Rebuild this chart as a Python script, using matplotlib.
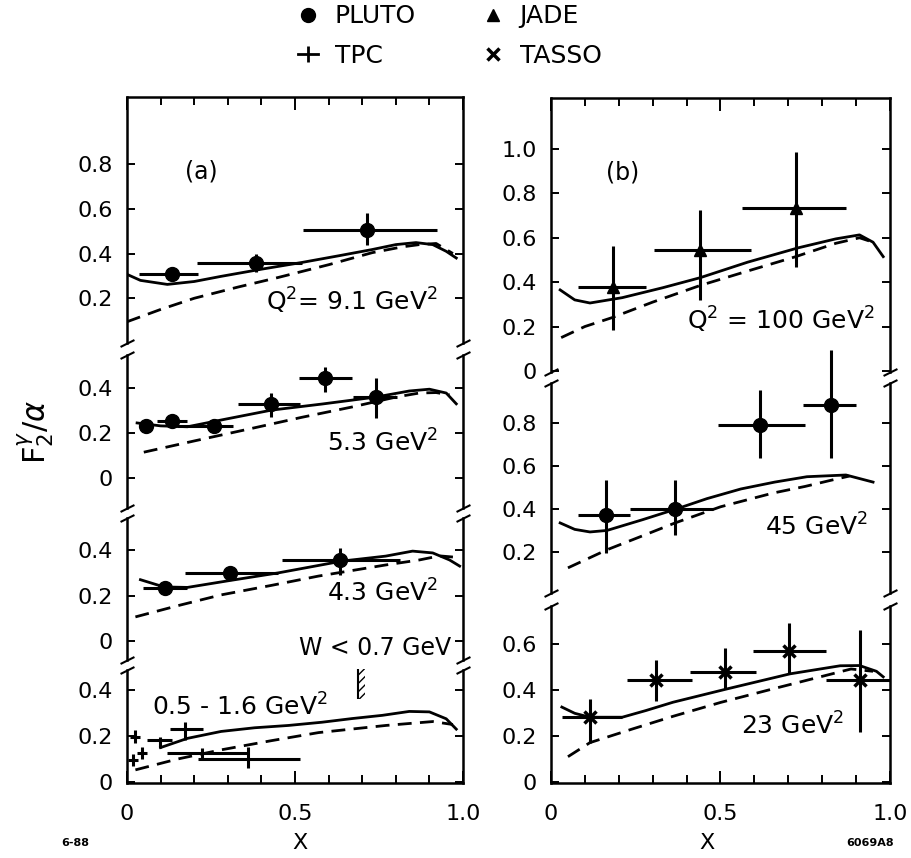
import matplotlib
matplotlib.use("Agg")
import matplotlib.pyplot as plt
from matplotlib.lines import Line2D
from matplotlib.ticker import MultipleLocator
import numpy as np

plt.rcParams['font.family'] = ['DejaVu Sans']
plt.rcParams['mathtext.fontset'] = 'dejavusans'

# ---------------- data ----------------
# (a) Q2 = 9.1 GeV2, PLUTO
a1_x = [0.134, 0.384, 0.714]
a1_y = [0.307, 0.356, 0.507]
a1_xlo = [0.035, 0.208, 0.524]
a1_xhi = [0.211, 0.521, 0.923]
a1_ylo = [0.295, 0.316, 0.44]
a1_yhi = [0.32, 0.40, 0.58]
a1_sol_x = [0.0, 0.04, 0.12, 0.2, 0.28, 0.4, 0.52, 0.63, 0.73, 0.8, 0.86, 0.91, 0.95, 0.98]
a1_sol_y = [0.307, 0.28, 0.262, 0.275, 0.298, 0.33, 0.36, 0.39, 0.418, 0.44, 0.449, 0.44, 0.41, 0.38]
a1_dash_x = [0.0, 0.1, 0.2, 0.33, 0.45, 0.6, 0.73, 0.82, 0.87, 0.92, 0.97]
a1_dash_y = [0.095, 0.15, 0.2, 0.25, 0.293, 0.35, 0.404, 0.43, 0.44, 0.445, 0.40]

# (a) Q2 = 5.3 GeV2, PLUTO
a2_x = [0.057, 0.134, 0.259, 0.429, 0.589, 0.741]
a2_y = [0.231, 0.253, 0.231, 0.329, 0.444, 0.36]
a2_xlo = [0.045, 0.09, 0.15, 0.33, 0.512, 0.673]
a2_xhi = [0.07, 0.18, 0.315, 0.515, 0.67, 0.804]
a2_ylo = [0.225, 0.245, 0.225, 0.271, 0.382, 0.267]
a2_yhi = [0.237, 0.26, 0.237, 0.378, 0.493, 0.444]
a2_sol_x = [0.03, 0.1, 0.18, 0.28, 0.43, 0.58, 0.74, 0.84, 0.9, 0.95, 0.98]
a2_sol_y = [0.245, 0.232, 0.228, 0.258, 0.302, 0.329, 0.36, 0.387, 0.395, 0.378, 0.33]
a2_dash_x = [0.05, 0.2, 0.375, 0.52, 0.67, 0.8, 0.87, 0.92, 0.96]
a2_dash_y = [0.115, 0.165, 0.222, 0.27, 0.316, 0.36, 0.378, 0.38, 0.37]

# (a) Q2 = 4.3 GeV2, PLUTO
a3_x = [0.113, 0.307, 0.634]
a3_y = [0.233, 0.30, 0.357]
a3_xlo = [0.048, 0.173, 0.461]
a3_xhi = [0.18, 0.449, 0.813]
a3_ylo = [0.227, 0.293, 0.29]
a3_yhi = [0.24, 0.307, 0.41]
a3_sol_x = [0.04, 0.11, 0.18, 0.3, 0.45, 0.64, 0.77, 0.85, 0.91, 0.96, 0.99]
a3_sol_y = [0.27, 0.238, 0.236, 0.265, 0.30, 0.352, 0.374, 0.396, 0.388, 0.357, 0.33]
a3_dash_x = [0.025, 0.15, 0.28, 0.43, 0.57, 0.77, 0.87, 0.93, 0.97]
a3_dash_y = [0.106, 0.155, 0.203, 0.245, 0.286, 0.335, 0.357, 0.375, 0.37]

# (a) Q2 = 0.5 - 1.6 GeV2, TPC
a4_x = [0.018, 0.024, 0.045, 0.098, 0.173, 0.223, 0.36]
a4_y = [0.096, 0.197, 0.126, 0.183, 0.23, 0.126, 0.10]
a4_xlo = [0.004, 0.008, 0.03, 0.06, 0.128, 0.119, 0.21]
a4_xhi = [0.032, 0.04, 0.06, 0.134, 0.226, 0.357, 0.515]
a4_ylo = [0.07, 0.17, 0.10, 0.148, 0.183, 0.096, 0.061]
a4_yhi = [0.122, 0.225, 0.152, 0.196, 0.26, 0.148, 0.152]
a4_sol_x = [0.1, 0.18, 0.28, 0.38, 0.48, 0.58, 0.67, 0.76, 0.84, 0.9, 0.95, 0.98]
a4_sol_y = [0.15, 0.19, 0.22, 0.236, 0.246, 0.26, 0.276, 0.29, 0.307, 0.305, 0.275, 0.23]
a4_dash_x = [0.025, 0.15, 0.28, 0.43, 0.57, 0.77, 0.91, 0.97]
a4_dash_y = [0.053, 0.1, 0.14, 0.18, 0.215, 0.246, 0.263, 0.25]

# (b) Q2 = 100 GeV2, JADE
b1_x = [0.183, 0.44, 0.723]
b1_y = [0.378, 0.545, 0.734]
b1_xlo = [0.08, 0.304, 0.563]
b1_xhi = [0.28, 0.59, 0.87]
b1_ylo = [0.185, 0.32, 0.468]
b1_yhi = [0.563, 0.725, 0.986]
b1_sol_x = [0.027, 0.07, 0.115, 0.21, 0.33, 0.44, 0.58, 0.73, 0.84, 0.91, 0.95, 0.98]
b1_sol_y = [0.365, 0.32, 0.306, 0.33, 0.375, 0.42, 0.49, 0.555, 0.595, 0.613, 0.58, 0.515]
b1_dash_x = [0.03, 0.1, 0.18, 0.3, 0.44, 0.58, 0.72, 0.84, 0.91, 0.95]
b1_dash_y = [0.15, 0.2, 0.24, 0.31, 0.385, 0.45, 0.514, 0.575, 0.60, 0.58]

# (b) Q2 = 45 GeV2, PLUTO
b2_x = [0.162, 0.366, 0.617, 0.826]
b2_y = [0.372, 0.40, 0.79, 0.884]
b2_xlo = [0.08, 0.233, 0.493, 0.743]
b2_xhi = [0.233, 0.478, 0.749, 0.90]
b2_ylo = [0.195, 0.279, 0.637, 0.637]
b2_yhi = [0.535, 0.535, 0.953, 1.14]
b2_sol_x = [0.027, 0.07, 0.115, 0.165, 0.27, 0.37, 0.46, 0.56, 0.66, 0.755, 0.87, 0.95]
b2_sol_y = [0.335, 0.305, 0.293, 0.30, 0.35, 0.40, 0.448, 0.493, 0.525, 0.55, 0.558, 0.525]
b2_dash_x = [0.05, 0.165, 0.27, 0.366, 0.5, 0.655, 0.75, 0.83, 0.88]
b2_dash_y = [0.126, 0.21, 0.275, 0.335, 0.41, 0.474, 0.505, 0.535, 0.553]

# (b) Q2 = 23 GeV2, TASSO
b3_x = [0.115, 0.31, 0.513, 0.702, 0.912]
b3_y = [0.281, 0.443, 0.478, 0.57, 0.443]
b3_xlo = [0.032, 0.224, 0.41, 0.596, 0.811]
b3_xhi = [0.209, 0.416, 0.605, 0.811, 1.0]
b3_ylo = [0.171, 0.351, 0.404, 0.474, 0.219]
b3_yhi = [0.36, 0.531, 0.579, 0.689, 0.658]
b3_sol_x = [0.032, 0.07, 0.115, 0.21, 0.28, 0.36, 0.52, 0.705, 0.853, 0.91, 0.96, 0.98]
b3_sol_y = [0.325, 0.298, 0.281, 0.281, 0.31, 0.346, 0.404, 0.469, 0.504, 0.505, 0.48, 0.456]
b3_dash_x = [0.05, 0.115, 0.24, 0.36, 0.5, 0.655, 0.805, 0.885, 0.95]
b3_dash_y = [0.11, 0.171, 0.23, 0.285, 0.345, 0.404, 0.46, 0.49, 0.48]

# ---------------- figure ----------------
W, H = 912, 858
fig = plt.figure(figsize=(W / 100, H / 100), dpi=100)


def box(l, r, t, b):
    return fig.add_axes([l / W, 1 - b / H, (r - l) / W, (b - t) / H])


def fmt(v):
    return "0" if v == 0 else "%.1f" % v


def style(ax, ylim, yticks, pos):
    ax.set_xlim(0, 1)
    ax.set_ylim(*ylim)
    ax.set_yticks(yticks)
    ax.set_yticklabels([fmt(v) for v in yticks])
    for s in ax.spines.values():
        s.set_linewidth(1.8)
    ax.tick_params(axis='y', direction='in', left=True, right=True, length=6,
                   width=1.4, labelsize=16, pad=10)
    ax.xaxis.set_major_locator(MultipleLocator(0.5))
    ax.xaxis.set_minor_locator(MultipleLocator(0.1))
    ax.tick_params(axis='x', which='both', direction='in', top=False, bottom=False,
                   labelbottom=False, labeltop=False)
    if pos == 'top':
        ax.spines['bottom'].set_visible(False)
        ax.tick_params(axis='x', which='both', top=True)
    elif pos == 'bottom':
        ax.spines['top'].set_visible(False)
        ax.tick_params(axis='x', which='both', bottom=True, labelbottom=True)
        ax.set_xticks([0, 0.5, 1.0])
        ax.set_xticklabels(["0", "0.5", "1.0"])
    else:
        ax.spines['top'].set_visible(False)
        ax.spines['bottom'].set_visible(False)
    ax.tick_params(axis='x', which='major', length=9, width=1.4, labelsize=16, pad=15)
    ax.tick_params(axis='x', which='minor', length=6, width=1.4)


def brk(upper, lower):
    kw = dict(marker=[(-1, -0.5), (1, 0.5)], markersize=10, linestyle='none',
              color='k', mec='k', mew=1.5, clip_on=False)
    upper.plot([0, 1], [0, 0], transform=upper.transAxes, **kw)
    lower.plot([0, 1], [1, 1], transform=lower.transAxes, **kw)


def draw(ax, x, y, xlo, xhi, ylo, yhi, marker, ms, sx, sy, dx, dy, noclip=False):
    x = np.array(x); y = np.array(y)
    xe = [x - np.array(xlo), np.array(xhi) - x]
    ye = [y - np.array(ylo), np.array(yhi) - y]
    ax.plot(sx, sy, color='k', lw=2)
    ax.plot(dx, dy, color='k', lw=2, dashes=(5, 3))
    kw = dict(fmt=marker, color='k', ms=ms, elinewidth=2.2, capsize=0)
    if marker == 'x':
        kw['mew'] = 2.5
    eb = ax.errorbar(x, y, xerr=xe, yerr=ye, **kw)
    if noclip:
        for c in eb.lines[2]:
            c.set_clip_on(False)


# panel (a)
a1 = box(127, 463, 97, 343)
a2 = box(127, 463, 355, 508)
a3 = box(127, 463, 518, 660)
a4 = box(127, 463, 670, 783)
style(a1, (0.0, 1.1), [0.2, 0.4, 0.6, 0.8], 'top')
style(a2, (-0.133, 0.547), [0, 0.2, 0.4], 'mid')
style(a3, (-0.084, 0.542), [0, 0.2, 0.4], 'mid')
style(a4, (-0.004, 0.487), [0, 0.2, 0.4], 'bottom')
brk(a1, a2); brk(a2, a3); brk(a3, a4)

draw(a1, a1_x, a1_y, a1_xlo, a1_xhi, a1_ylo, a1_yhi, 'o', 10, a1_sol_x, a1_sol_y, a1_dash_x, a1_dash_y)
draw(a2, a2_x, a2_y, a2_xlo, a2_xhi, a2_ylo, a2_yhi, 'o', 10, a2_sol_x, a2_sol_y, a2_dash_x, a2_dash_y)
draw(a3, a3_x, a3_y, a3_xlo, a3_xhi, a3_ylo, a3_yhi, 'o', 10, a3_sol_x, a3_sol_y, a3_dash_x, a3_dash_y)
draw(a4, a4_x, a4_y, a4_xlo, a4_xhi, a4_ylo, a4_yhi, 'none', 0, a4_sol_x, a4_sol_y, a4_dash_x, a4_dash_y)

a1.text(0.22, 0.765, "(a)", fontsize=17, ha='center', va='center')
a1.text(0.925, 0.19, r"Q$^2$= 9.1 GeV$^2$", fontsize=18, ha='right', va='center')
a2.text(0.925, 0.156, r"5.3 GeV$^2$", fontsize=18, ha='right', va='center')
a3.text(0.925, 0.21, r"4.3 GeV$^2$", fontsize=18, ha='right', va='center')
a3.text(0.965, -0.03, "W < 0.7 GeV", fontsize=17, ha='right', va='center')
a4.text(0.074, 0.326, r"0.5 - 1.6 GeV$^2$", fontsize=18, ha='left', va='center')
# W cut marker
a4.vlines(0.688, 0.36, 0.49, color='k', lw=1.5, clip_on=False)
a4.fill_betweenx([0.36, 0.49], 0.688, 0.708, hatch='////', facecolor='none',
                 edgecolor='k', linewidth=0, clip_on=False)

# panel (b)
b1 = box(551, 890, 98, 372)
b2 = box(551, 890, 383, 593)
b3 = box(551, 890, 606, 783)
style(b1, (-0.005, 1.23), [0, 0.2, 0.4, 0.6, 0.8, 1.0], 'top')
style(b2, (0.009, 0.986), [0.2, 0.4, 0.6, 0.8], 'mid')
style(b3, (-0.004, 0.763), [0, 0.2, 0.4, 0.6], 'bottom')
brk(b1, b2); brk(b2, b3)

draw(b1, b1_x, b1_y, b1_xlo, b1_xhi, b1_ylo, b1_yhi, '^', 9, b1_sol_x, b1_sol_y, b1_dash_x, b1_dash_y)
draw(b2, b2_x, b2_y, b2_xlo, b2_xhi, b2_ylo, b2_yhi, 'o', 10, b2_sol_x, b2_sol_y, b2_dash_x, b2_dash_y, noclip=True)
draw(b3, b3_x, b3_y, b3_xlo, b3_xhi, b3_ylo, b3_yhi, 'x', 9, b3_sol_x, b3_sol_y, b3_dash_x, b3_dash_y)

b1.text(0.21, 0.896, "(b)", fontsize=17, ha='center', va='center')
b1.text(0.955, 0.23, r"Q$^2$ = 100 GeV$^2$", fontsize=18, ha='right', va='center')
b2.text(0.935, 0.316, r"45 GeV$^2$", fontsize=18, ha='right', va='center')
b3.text(0.865, 0.241, r"23 GeV$^2$", fontsize=18, ha='right', va='center')

# axis labels and legend
fig.text(36 / W, 1 - 432 / H, r"$\mathrm{F}_2^{\gamma}/\alpha$", rotation=90,
         fontsize=22, ha='center', va='center')
fig.text(300 / W, 1 - 843 / H, "X", fontsize=16, ha='center', va='center')
fig.text(707 / W, 1 - 843 / H, "X", fontsize=16, ha='center', va='center')
fig.text(75 / W, 1 - 843 / H, "6-88", fontsize=8, ha='center', va='center', fontweight='bold')
fig.text(870 / W, 1 - 843 / H, "6069A8", fontsize=8, ha='center', va='center', fontweight='bold')

handles = [
    Line2D([0], [0], marker='o', ls='none', color='k', ms=10),
    Line2D([0], [0], marker='|', ls='-', color='k', ms=12, mew=2, lw=2),
    Line2D([0], [0], marker='^', ls='none', color='k', ms=9),
    Line2D([0], [0], marker='x', ls='none', color='k', ms=8, mew=2.5),
]
labels = ["PLUTO", "TPC", "JADE", "TASSO"]
fig.legend(handles, labels, ncol=2, loc='center', bbox_to_anchor=(450 / W, 1 - 36 / H),
           frameon=False, fontsize=18, handlelength=0.8, handletextpad=0.65,
           columnspacing=2.7, labelspacing=0.62, borderpad=0.2)

fig.savefig("out.png", dpi=100)
